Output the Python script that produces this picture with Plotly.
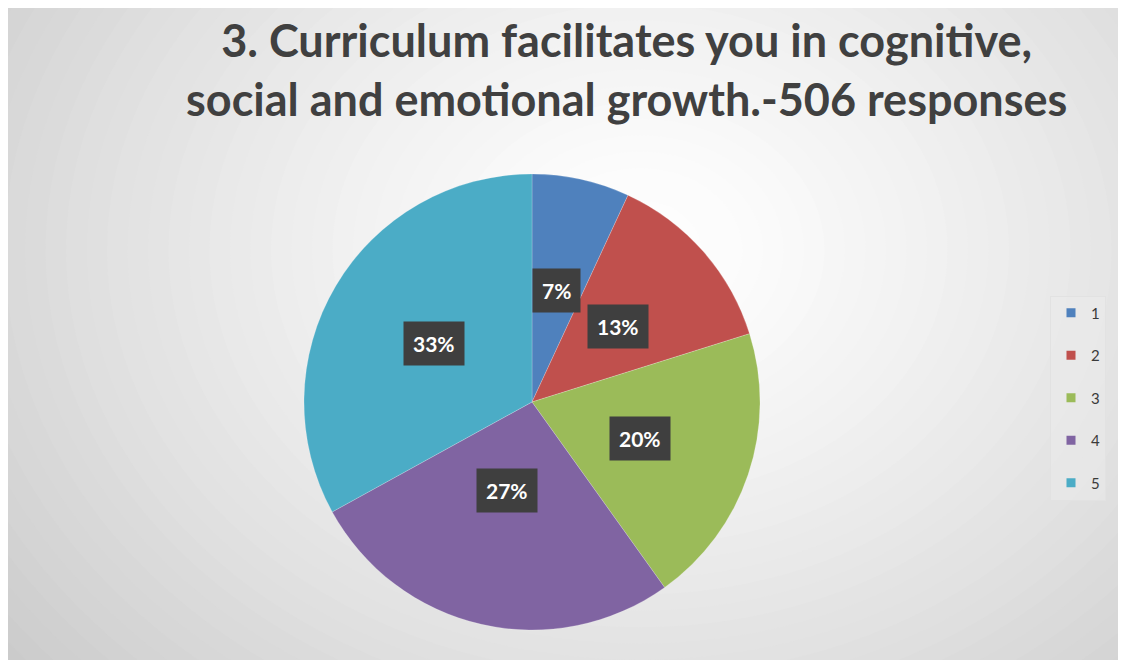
import math
import plotly.graph_objects as go

# ---- data ----
categories = ["1", "2", "3", "4", "5"]
counts = [35, 67, 101, 136, 167]
colors = ["#4F81BD", "#C0504D", "#9BBB59", "#8064A2", "#4BACC6"]
title_lines = ["3. Curriculum facilitates you in cognitive,",
               "social and emotional growth.-506 responses"]

OFF = 8  # browser body margin
W, H = 1118, 652
cx_px, cy_px, R_px = 532 - OFF, 402 - OFF, 228

fig = go.Figure()

# background radial gradient emulation
shapes = []
gcx, gcy = 640 - OFF, 250 - OFF
steps = 50
rmax = 820
for i in range(steps):
    r = rmax * (1 - i / steps)
    t = r / rmax
    v = int(round(255 - (255 - 186) * min(1.0, t ** 1.3)))
    col = f"rgb({v},{v},{v})"
    shapes.append(dict(type="circle", xref="paper", yref="paper", layer="below",
                       x0=(gcx - r * 1.25) / W, x1=(gcx + r * 1.25) / W,
                       y0=1 - (gcy + r) / H, y1=1 - (gcy - r) / H,
                       fillcolor=col, line=dict(width=0)))

dom_x = [(cx_px - R_px) / W, (cx_px + R_px) / W]
dom_y = [1 - (cy_px + R_px) / H, 1 - (cy_px - R_px) / H]

fig.add_trace(go.Pie(
    labels=categories, values=counts, sort=False, direction="clockwise",
    rotation=0, marker=dict(colors=colors, line=dict(color="rgba(255,255,255,0.4)", width=0.5)),
    textinfo="none", hoverinfo="label+percent", showlegend=False,
    domain=dict(x=dom_x, y=dom_y),
))

# legend via invisible markers
for c, col in zip(categories, colors):
    fig.add_trace(go.Scatter(x=[None], y=[None], mode="markers", name=c,
                             legendgroup=c, marker=dict(symbol="square", size=9, color=col)))

# labels in dark boxes
total = sum(counts)
annotations = []
cum = 0
for c, v in zip(categories, counts):
    mid = (cum + v / 2) / total * 2 * math.pi
    cum += v
    rr = 0.5 * R_px
    x_px = cx_px + rr * math.sin(mid)
    y_px = cy_px - rr * math.cos(mid)
    annotations.append(dict(x=x_px / W, y=1 - y_px / H, xref="paper", yref="paper",
                            text=f"<b>{round(v / total * 100)}%</b>", showarrow=False,
                            font=dict(family="Lato", size=21, color="white"),
                            bgcolor="#3f3f3f", borderpad=9))

annotations.append(dict(x=(626 - OFF) / W, y=1 - 3 / H, xref="paper", yref="paper",
                        xanchor="center", yanchor="top", showarrow=False,
                        text="<b>" + "<br>".join(title_lines) + "</b>",
                        font=dict(family="Lato", size=45, color="#404040")))

fig.update_layout(
    width=W, height=H, margin=dict(l=0, r=0, t=0, b=0),
    paper_bgcolor="#bababa", plot_bgcolor="rgba(0,0,0,0)",
    shapes=shapes, annotations=annotations,
    xaxis=dict(visible=False), yaxis=dict(visible=False),
    legend=dict(x=(1050 - OFF) / W, y=1 - (398 - OFF) / H, xanchor="left", yanchor="middle",
                font=dict(family="Lato", size=15, color="#3a3a3a"),
                tracegroupgap=20, bgcolor="rgba(235,235,235,0.5)",
                bordercolor="#e2e2e2", borderwidth=1, itemwidth=30),
)

fig.write_html("out.html")
